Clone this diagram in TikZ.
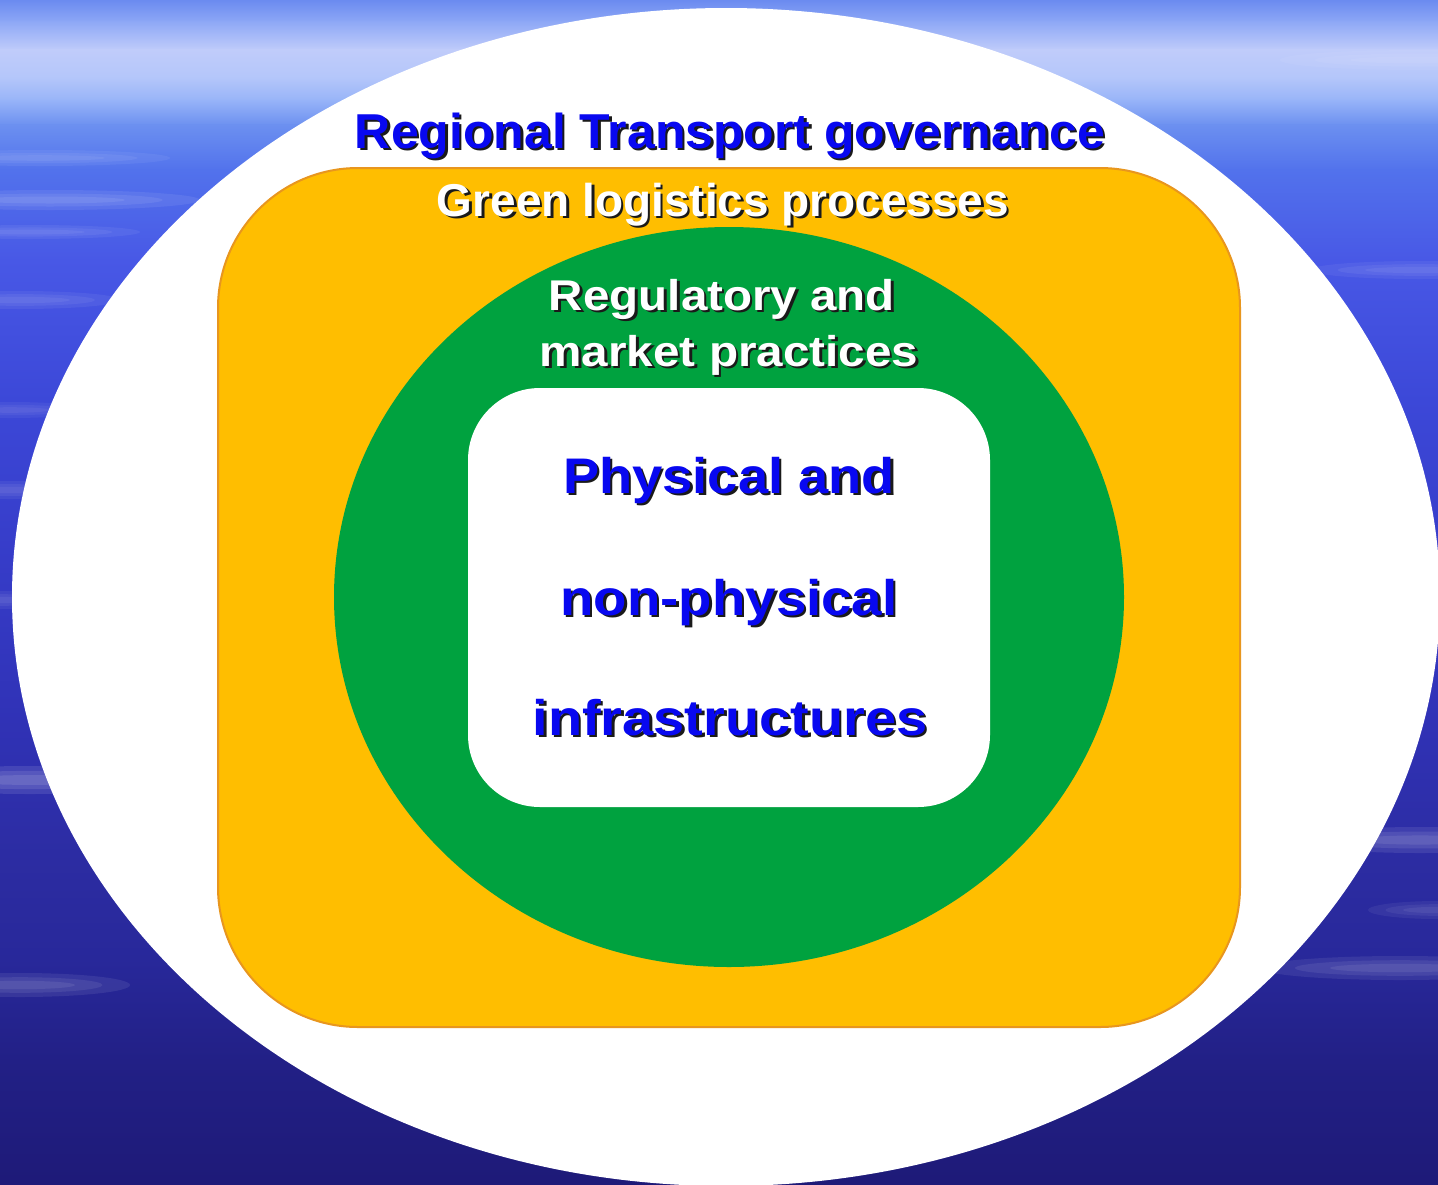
\documentclass[tikz,border=0pt]{standalone}
\usepackage{fontspec}
\setmainfont{Liberation Sans}
\usetikzlibrary{shapes.geometric,fadings}
\definecolor{sk0}{HTML}{6A8AF0}
\definecolor{sk1}{HTML}{8EA8F6}
\definecolor{sk2}{HTML}{C0CCFA}
\definecolor{sk3}{HTML}{B4C6FA}
\definecolor{sk4}{HTML}{98B4F8}
\definecolor{sk5}{HTML}{6C90F0}
\definecolor{sk6}{HTML}{5272EC}
\definecolor{sk7}{HTML}{4858E6}
\definecolor{sk8}{HTML}{3C48D8}
\definecolor{sk9}{HTML}{363CC8}
\definecolor{sk10}{HTML}{3032B6}
\definecolor{sk11}{HTML}{2C2CA2}
\definecolor{sk12}{HTML}{28289A}
\definecolor{sk13}{HTML}{222086}
\definecolor{sk14}{HTML}{1E1A78}
\definecolor{orangefill}{HTML}{FFBE00}
\definecolor{orangeline}{HTML}{E8961E}
\definecolor{greenfill}{HTML}{00A23F}
\definecolor{textblue}{HTML}{0808F0}
\definecolor{shadowc}{HTML}{1A1A1A}
\newcommand{\shtext}[7]{% name, x, y, size, width, colour, text
  \node[anchor=base, inner sep=0pt, text=shadowc, font=\fontsize{#4}{#4}\selectfont\bfseries] (#1s) at (#2+2.5,#3+2.5) {\resizebox{#5pt}{\height}{#7}};
  \node[anchor=base, inner sep=0pt, text=#6, font=\fontsize{#4}{#4}\selectfont\bfseries] (#1) at (#2,#3) {\resizebox{#5pt}{\height}{#7}};
}
\newcommand{\skystreak}[5]{% x, y, rx, ry, opacity
  \fill[white, opacity=#5] (#1,#2) ellipse [x radius=#3pt, y radius=#4pt];
  \fill[white, opacity=#5] (#1,#2) ellipse [x radius=0.75*#3pt, y radius=0.65*#4pt];
  \fill[white, opacity=#5] (#1,#2) ellipse [x radius=0.5*#3pt, y radius=0.35*#4pt];
}
\begin{document}
\begin{tikzpicture}[x=1pt,y=-1pt]
\useasboundingbox (0,0) rectangle (1438,1184);
% sky background
\foreach \ya/\yb/\ca/\cb in {0/22/sk0/sk1, 22/50/sk1/sk2, 50/78/sk2/sk3, 78/100/sk3/sk4, 100/125/sk4/sk5, 125/170/sk5/sk6, 170/260/sk6/sk7, 260/400/sk7/sk8, 400/560/sk8/sk9, 560/720/sk9/sk10, 720/860/sk10/sk11, 860/960/sk11/sk12, 960/1060/sk12/sk13, 1060/1184/sk13/sk14}
  {\shade[top color=\ca, bottom color=\cb] (0,\ya-0.6) rectangle (1438,\yb+0.6);}
% cloud streaks
\skystreak{40}{158}{130}{8}{0.06}
\skystreak{50}{200}{150}{10}{0.08}
\skystreak{30}{232}{110}{7}{0.06}
\skystreak{20}{300}{100}{9}{0.06}
\skystreak{10}{410}{80}{8}{0.05}
\skystreak{10}{490}{80}{9}{0.06}
\skystreak{0}{600}{60}{9}{0.06}
\skystreak{30}{780}{140}{14}{0.1}
\skystreak{20}{985}{110}{12}{0.08}
\skystreak{1420}{270}{110}{9}{0.06}
\skystreak{1420}{840}{130}{13}{0.09}
\skystreak{1400}{968}{140}{12}{0.08}
\skystreak{1438}{910}{70}{9}{0.06}
\skystreak{1420}{60}{140}{10}{0.05}
% containers
\node[ellipse, fill=white, inner sep=0pt, minimum width=1428pt, minimum height=1178pt] (gov) at (726,597) {};
\node[rectangle, rounded corners=140pt, fill=orangefill, draw=orangeline, line width=2pt, inner sep=0pt, minimum width=1022pt, minimum height=859pt] (green) at (729,597.5) {};
\node[ellipse, fill=greenfill, inner sep=0pt, minimum width=790pt, minimum height=740pt] (reg) at (729,597) {};
\node[rectangle, rounded corners=72pt, fill=white, inner sep=0pt, minimum width=522pt, minimum height=419pt] (phys) at (729,597.5) {};
% texts
\shtext{t1}{730}{148}{49}{750}{textblue}{Regional Transport governance}
\shtext{t2}{723}{216}{46}{572}{white}{Green logistics processes}
\shtext{t3}{722}{310}{43}{346}{white}{Regulatory and}
\shtext{t4}{729}{366}{43}{379}{white}{market practices}
\shtext{t5}{729}{493}{50}{332}{textblue}{Physical and}
\shtext{t6}{729}{615}{50}{337}{textblue}{non-physical}
\shtext{t7}{730}{735}{50}{395}{textblue}{infrastructures}
\end{tikzpicture}
\end{document}
